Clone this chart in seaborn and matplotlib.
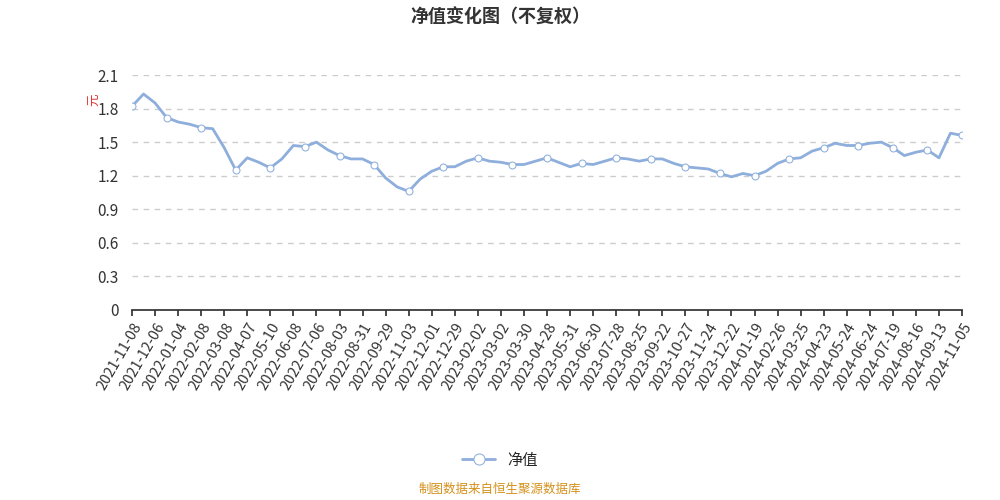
import matplotlib
matplotlib.use("Agg")
import matplotlib.pyplot as plt
import seaborn as sns
import pandas as pd
import numpy as np

tick_labels = ["2021-11-08","2021-12-06","2022-01-04","2022-02-08","2022-03-08","2022-04-07","2022-05-10",
"2022-06-08","2022-07-06","2022-08-03","2022-08-31","2022-09-29","2022-11-03","2022-12-01","2022-12-29",
"2023-02-02","2023-03-02","2023-03-30","2023-04-28","2023-05-31","2023-06-30","2023-07-28","2023-08-25",
"2023-09-22","2023-10-27","2023-11-24","2023-12-22","2024-01-19","2024-02-26","2024-03-25","2024-04-23",
"2024-05-24","2024-06-24","2024-07-19","2024-08-16","2024-09-13","2024-11-05"]
# values at each tick, and midpoints between consecutive ticks
tick_values = [1.82,1.85,1.68,1.63,1.45,1.36,1.27,1.47,1.50,1.38,1.35,1.18,1.06,1.24,1.28,1.36,1.32,1.30,
1.36,1.28,1.30,1.36,1.33,1.35,1.28,1.26,1.19,1.20,1.31,1.36,1.45,1.47,1.49,1.45,1.41,1.36,1.56]
mid_values = [1.93,1.72,1.66,1.62,1.25,1.32,1.35,1.46,1.43,1.35,1.30,1.10,1.17,1.28,1.33,1.33,1.30,1.33,
1.32,1.31,1.33,1.35,1.35,1.31,1.27,1.22,1.22,1.24,1.35,1.42,1.49,1.47,1.50,1.38,1.43,1.58]

vals = []
for i, v in enumerate(tick_values):
    vals.append(v)
    if i < len(mid_values):
        vals.append(mid_values[i])
df = pd.DataFrame({"x": np.arange(len(vals)), "净值": vals})

sns.set_theme(style="white")
plt.rcParams['font.family'] = ['Noto Sans CJK SC', 'DejaVu Sans']
fig, ax = plt.subplots(figsize=(10, 5), dpi=100)
fig.subplots_adjust(left=0.132, right=0.962, top=0.85, bottom=0.38)
col = "#8eaedb"
sns.lineplot(data=df, x="x", y="净值", ax=ax, color=col, linewidth=2, marker="o",
             markevery=3, markersize=5, markerfacecolor="white", markeredgecolor=col,
             label="净值", legend=False)
ax.set_xlim(0, len(vals) - 1)
ax.set_ylim(0, 2.1)
ax.set_yticks([0, 0.3, 0.6, 0.9, 1.2, 1.5, 1.8, 2.1])
ax.set_yticklabels(["0","0.3","0.6","0.9","1.2","1.5","1.8","2.1"], fontsize=11, color="#333")
ax.set_xticks(np.arange(0, len(vals), 2))
ax.set_xticklabels(tick_labels, rotation=60, ha="right", rotation_mode="anchor", fontsize=10.5, color="#333")
ax.yaxis.grid(True, linestyle=(0, (4, 4)), color="#cccccc")
for s in ["top", "right", "left"]:
    ax.spines[s].set_visible(False)
ax.spines["bottom"].set_color("#333")
ax.tick_params(axis="x", length=4, color="#333", bottom=True)
ax.set_xlabel(""); ax.set_ylabel("")
ax.text(-0.045, 0.88, "元", transform=ax.transAxes, rotation=90, color="#e03030", fontsize=9, ha="center")
fig.text(0.5, 0.965, "净值变化图（不复权）", ha="center", va="center", fontsize=13, fontweight="bold", color="#333")
h, l = ax.get_legend_handles_labels()
fig.legend(h, l, loc="center", bbox_to_anchor=(0.5, 0.08), frameon=False, fontsize=11, markerscale=1.6, handlelength=2.2)
fig.text(0.5, 0.014, "制图数据来自恒生聚源数据库", ha="center", fontsize=9, color="#d4901a")
fig.savefig("out.png")
